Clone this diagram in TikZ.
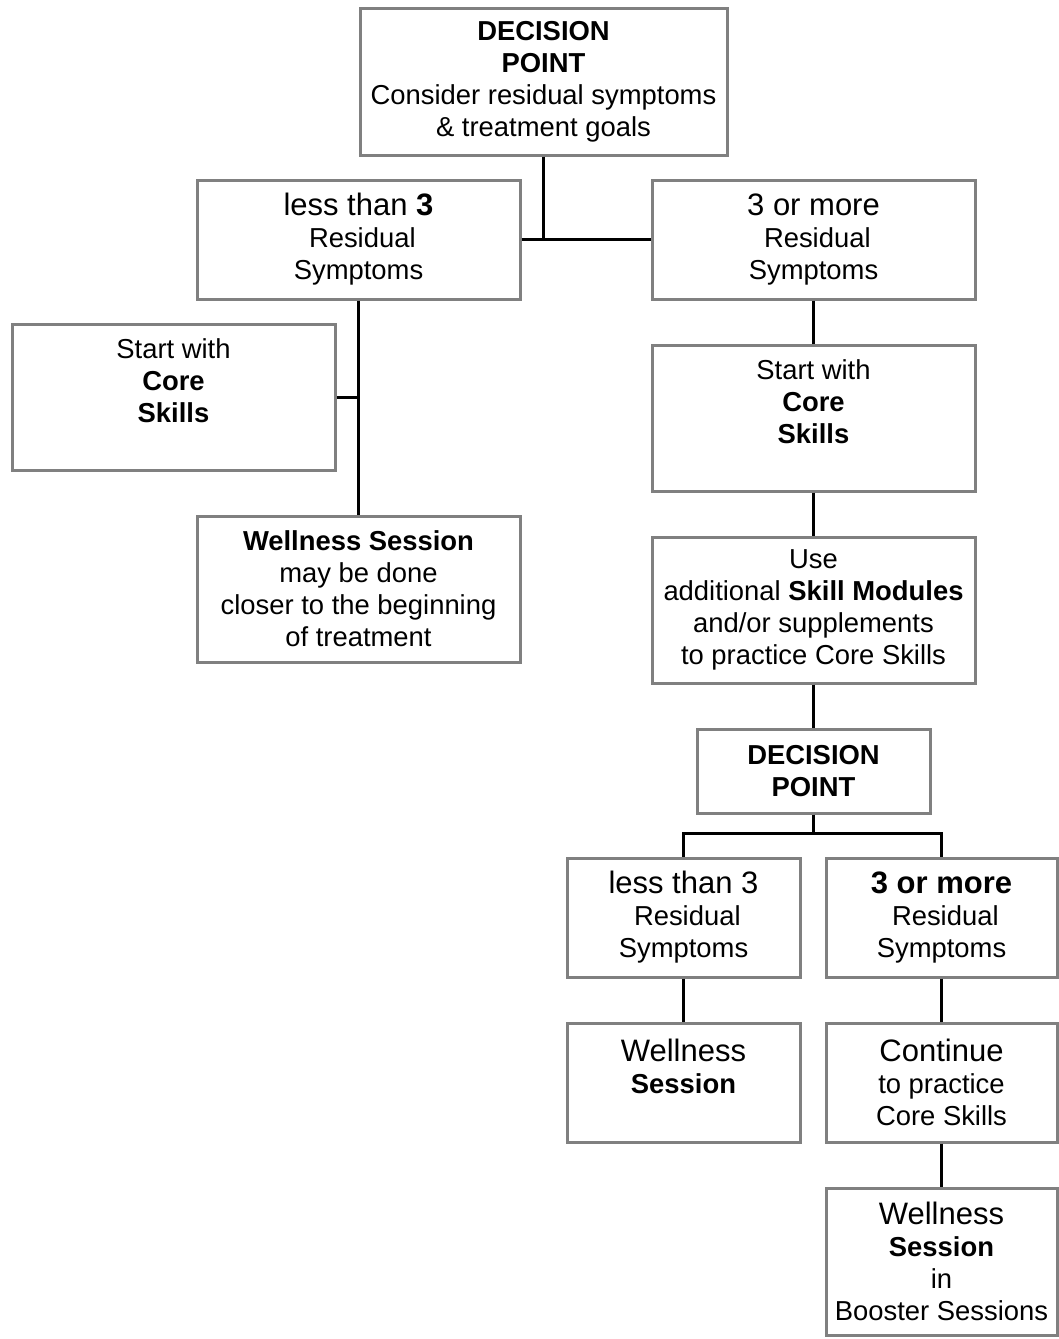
\documentclass[tikz,border=0pt]{standalone}
\usepackage{fontspec}
\setmainfont{Liberation Sans}
\newcommand\bigline{\fontsize{31}{35}\selectfont}
\begin{document}
\begin{tikzpicture}[x=1pt,y=-1pt,
  box/.style={draw=black!50,line width=3pt,fill=white,align=center,inner sep=0pt,
    font=\fontsize{27.4}{32}\selectfont},
  wire/.style={line width=3pt,black}]
  \useasboundingbox (0,0) rectangle (1058,1339);
  % first decision
  \node[box,minimum width=367pt,minimum height=147pt] (dp1) at (543.5,81.5)
    {\textbf{DECISION}\\\textbf{POINT}\\Consider residual symptoms\\\& treatment goals};
  \node[box,minimum width=323pt,minimum height=119pt] (less1) at (358.5,239.5)
    {{\bigline less than \textbf{3}}\\\ Residual\\Symptoms};
  \node[box,minimum width=323pt,minimum height=119pt] (more1) at (813.5,239.5)
    {{\bigline 3 or more}\\\ Residual\\Symptoms};
  % left branch
  \node[box,minimum width=323pt,minimum height=146pt] (core1) at (173.5,397)
    {Start with\\\textbf{Core}\\\textbf{Skills}\\\mbox{}};
  \node[box,minimum width=323pt,minimum height=146pt] (well1) at (358.5,589)
    {\textbf{Wellness Session}\\may be done\\closer to the beginning\\of treatment};
  % right branch
  \node[box,minimum width=323pt,minimum height=146pt] (core2) at (813.5,418)
    {Start with\\\textbf{Core}\\\textbf{Skills}\\\mbox{}};
  \node[box,minimum width=323pt,minimum height=146pt] (extra) at (813.5,610)
    {Use\\additional \textbf{Skill Modules}\\and/or supplements\\to practice Core Skills};
  \node[box,minimum width=233pt,minimum height=84pt] (dp2) at (813.5,771)
    {\textbf{DECISION}\\\textbf{POINT}};
  \node[box,minimum width=233pt,minimum height=119pt] (less2) at (683.5,917.5)
    {{\bigline less than 3}\\\ Residual\\Symptoms};
  \node[box,minimum width=231pt,minimum height=119pt] (more2) at (941.5,917.5)
    {{\bigline\bfseries 3 or more}\\\ Residual\\Symptoms};
  \node[box,minimum width=233pt,minimum height=119pt] (well2) at (683.5,1082.5)
    {{\bigline Wellness}\\\textbf{Session}\\\mbox{}};
  \node[box,minimum width=231pt,minimum height=119pt] (cont) at (941.5,1082.5)
    {{\bigline Continue}\\to practice\\Core Skills};
  \node[box,minimum width=231pt,minimum height=147pt] (well3) at (941.5,1261.5)
    {{\bigline Wellness}\\\textbf{Session}\\in\\Booster Sessions};
  \coordinate (split) at (813.5,833);
  \draw[wire] (dp1) -- (dp1 |- less1);
  \draw[wire] (less1) -- (more1);
  \draw[wire] (less1) -- (well1);
  \draw[wire] (core1) -- (core1 -| less1);
  \draw[wire] (more1) -- (core2);
  \draw[wire] (core2) -- (extra);
  \draw[wire] (extra) -- (dp2);
  \draw[wire] (dp2) -- (split);
  \draw[wire] (less2.north) |- (split) -| (more2.north);
  \draw[wire] (less2) -- (well2);
  \draw[wire] (more2) -- (cont);
  \draw[wire] (cont) -- (well3);
\end{tikzpicture}
\end{document}
